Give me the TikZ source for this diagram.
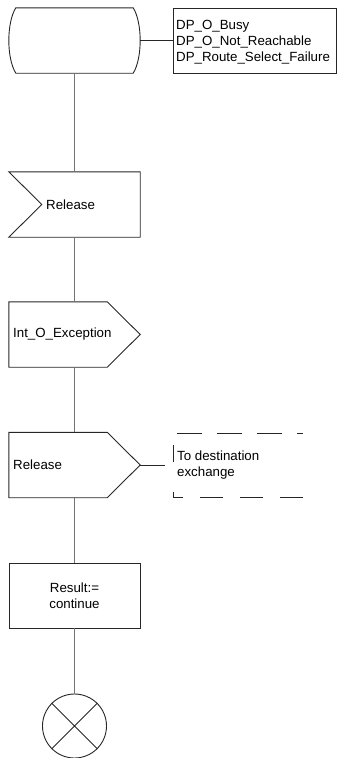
\documentclass[tikz,border=0pt]{standalone}
\usepackage{fontspec}
\setmainfont{Liberation Sans}
\usetikzlibrary{calc,positioning,shapes}

\tikzset{
  sdl/.style={draw=none,minimum width=131pt,minimum height=65pt,inner sep=0pt},
  txt/.style={inner sep=0pt,align=left,font=\fontsize{13.3}{16}\selectfont},
  flow/.style={draw=black!55,line width=1.4pt},
  outline/.style={draw=black!85,line width=0.9pt}
}

\begin{document}
\begin{tikzpicture}[x=1pt,y=-1pt]
  \useasboundingbox (0,0) rectangle (337,758);
  % start symbol with comment
  \node[sdl] (start) at (74.5,40.5) {};
  \draw[outline] ($(start.north west)+(7,0)$) -- ($(start.north east)+(-7,0)$)
    .. controls ($(start.north east)+(2.3,15)$) and ($(start.south east)+(2.3,-15)$) .. ($(start.south east)+(-7,0)$)
    -- ($(start.south west)+(7,0)$)
    .. controls ($(start.south west)+(-2.3,-15)$) and ($(start.north west)+(-2.3,15)$) .. cycle;
  \node[outline,minimum width=163pt,minimum height=65pt] (dp) at (254.5,40.5) {};
  \node[txt,anchor=west] (dptxt) at (176,42) {DP\_O\_Busy\\DP\_O\_Not\_Reachable\\DP\_Route\_Select\_Failure};
  \draw[outline] (start.east) -- (dp.west);
  % input
  \node[sdl] (rel1) at (74.5,204.5) {};
  \draw[outline] (rel1.north west) -- (rel1.north east) -- (rel1.south east) -- (rel1.south west) -- ($(rel1.west)+(33,0)$) -- cycle;
  \node[txt,anchor=west] (rel1txt) at (46,204.5) {Release};
  % outputs
  \node[sdl] (exc) at (74.5,334.5) {};
  \draw[outline] (exc.north west) -- ($(exc.north east)+(-33,0)$) -- (exc.east) -- ($(exc.south east)+(-33,0)$) -- (exc.south west) -- cycle;
  \node[txt,anchor=west] (exctxt) at (13,334.5) {Int\_O\_Exception};
  \node[sdl] (rel2) at (74.5,465) {};
  \draw[outline] (rel2.north west) -- ($(rel2.north east)+(-33,0)$) -- (rel2.east) -- ($(rel2.south east)+(-33,0)$) -- (rel2.south west) -- cycle;
  \node[txt,anchor=west] (rel2txt) at (13,465) {Release};
  \coordinate (dest) at (165,465);
  \draw[outline] (rel2.east) -- (dest);
  \draw[outline,dash pattern=on 25pt off 15pt] (177,433) -- (303,433);
  \draw[outline,dash pattern=on 17pt off 30pt on 15pt off 17pt on 23pt off 17pt on 23pt off 17pt on 23pt off 40pt] (173,445) -- (173,497) -- (303,497);
  \node[txt,anchor=west] (desttxt) at (177,465) {To destination\\exchange};
  % task and stop
  \node[outline,minimum width=131pt,minimum height=65pt] (res) at (74.5,595.5) {};
  \node[txt,align=center] (restxt) at (74.5,596) {Result:=\\continue};
  \node[outline,circle,minimum size=64pt] (stop) at (74.5,726) {};
  \draw[outline] (stop.north west) -- (stop.south east) (stop.north east) -- (stop.south west);
  % flow lines
  \draw[flow] (start.south) -- (rel1.north);
  \draw[flow] (rel1.south) -- (exc.north);
  \draw[flow] (exc.south) -- (rel2.north);
  \draw[flow] (rel2.south) -- (res.north);
  \draw[flow] (res.south) -- (stop.north);
\end{tikzpicture}
\end{document}
